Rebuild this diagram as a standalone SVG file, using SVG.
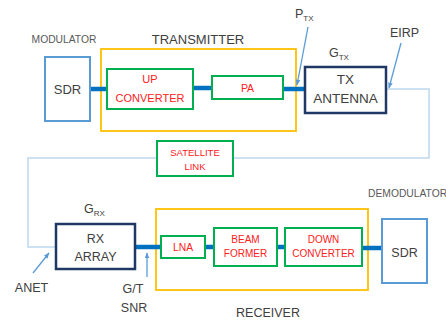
<svg xmlns="http://www.w3.org/2000/svg" width="446" height="320" viewBox="0 0 446 320">
<defs>
<style>
text{font-family:"Liberation Sans",Arial,sans-serif;fill:#404040;text-anchor:middle}
.lbl{fill:#404040}
.red{fill:#ff2020}
.sdr{fill:#fff;stroke:#5b9bd5;stroke-width:2}
.ant{fill:#fff;stroke:#1f3864;stroke-width:2.5}
.grn{fill:#fff;stroke:#00b050;stroke-width:2}
.yel{fill:none;stroke:#ffc000;stroke-width:1.8}
.thick{stroke:#0070c0;stroke-width:4.5;fill:none}
.thin{stroke:#bdd7ee;stroke-width:1.5;fill:none}
.ptr{stroke:#5b9bd5;stroke-width:1.3;fill:none;marker-end:url(#ah)}
</style>
<marker id="ah" viewBox="0 0 10 10" refX="9" refY="5" markerWidth="6" markerHeight="6" orient="auto-start-reverse" markerUnits="userSpaceOnUse">
<path d="M0,1 L10,5 L0,9 z" fill="#5b9bd5"/>
</marker>
</defs>
<rect width="446" height="320" fill="#fff"/>

<g id="transmitter-group">
<rect class="yel" x="101" y="49" width="195" height="82"/>
<text x="198" y="44" font-size="13">TRANSMITTER</text>
</g>
<g id="receiver-group">
<rect class="yel" x="156" y="209" width="212" height="81"/>
<text x="268" y="317" font-size="12.5">RECEIVER</text>
</g>

<g id="connectors">
<path class="thin" d="M386,89 H429 V158 H28 V247 H56"/>
<path class="thick" d="M90,89 H107"/>
<path class="thick" d="M193,88 H212"/>
<path class="thick" d="M283,89 H305"/>
<path class="thick" d="M135,247 H161"/>
<path class="thick" d="M205,247 H214"/>
<path class="thick" d="M277,247 H285"/>
<path class="thick" d="M362,248 H382"/>
<path class="ptr" d="M308,27 L297,85"/>
<path class="ptr" d="M401,43 L389,88"/>
<path class="ptr" d="M33,273 L49,253"/>
<path class="ptr" d="M147,277 L147,253"/>
</g>

<g id="modulator-sdr">
<text x="64" y="43" font-size="10.3" fill="#595959" style="fill:#595959">MODULATOR</text>
<rect class="sdr" x="45" y="57" width="45" height="64"/>
<text x="67.5" y="94" font-size="13">SDR</text>
</g>

<g id="up-converter">
<rect class="grn" x="107" y="69" width="86" height="40"/>
<text class="red" x="150" y="83" font-size="11">UP</text>
<text class="red" x="150" y="102" font-size="11">CONVERTER</text>
</g>

<g id="pa">
<rect class="grn" x="212" y="76" width="71" height="23"/>
<text class="red" x="247.5" y="92" font-size="10.5">PA</text>
</g>

<g id="tx-antenna">
<rect class="ant" x="305" y="67" width="81" height="46"/>
<text x="345.5" y="84" font-size="13.5">TX</text>
<text x="345.5" y="103" font-size="13.5">ANTENNA</text>
</g>

<g id="ptx-label">
<text x="295" y="18" font-size="12.5" style="text-anchor:start">P<tspan font-size="8" dy="3">TX</tspan></text>
</g>
<g id="gtx-label">
<text x="329" y="57" font-size="12.5" style="text-anchor:start">G<tspan font-size="8" dy="3">TX</tspan></text>
</g>
<g id="eirp-label">
<text x="404.5" y="37" font-size="12.5">EIRP</text>
</g>

<g id="satellite-link">
<rect class="grn" x="157" y="141" width="76" height="35"/>
<text class="red" x="195" y="156" font-size="9.5">SATELLITE</text>
<text class="red" x="195" y="170" font-size="9.5">LINK</text>
</g>

<g id="grx-label">
<text x="84" y="213" font-size="12.5" style="text-anchor:start">G<tspan font-size="8" dy="3">RX</tspan></text>
</g>

<g id="rx-array">
<rect class="ant" x="56" y="224" width="79" height="45"/>
<text x="95.5" y="243" font-size="12.5">RX</text>
<text x="95.5" y="261" font-size="12.5">ARRAY</text>
</g>

<g id="lna">
<rect class="grn" x="161" y="236" width="44" height="22"/>
<text class="red" x="183" y="251" font-size="10.3">LNA</text>
</g>

<g id="beam-former">
<rect class="grn" x="214" y="228" width="63" height="38"/>
<text class="red" x="245.5" y="243" font-size="10">BEAM</text>
<text class="red" x="245.5" y="257" font-size="10">FORMER</text>
</g>

<g id="down-converter">
<rect class="grn" x="285" y="228" width="77" height="38"/>
<text class="red" x="323.5" y="243" font-size="10">DOWN</text>
<text class="red" x="323.5" y="257" font-size="10">CONVERTER</text>
</g>

<g id="demodulator-sdr">
<text x="368" y="197" font-size="10.3" style="text-anchor:start;fill:#595959">DEMODULATOR</text>
<rect class="sdr" x="382" y="219" width="45" height="64"/>
<text x="404.5" y="257" font-size="12.5">SDR</text>
</g>

<g id="anet-label">
<text x="31.5" y="292" font-size="12.5">ANET</text>
</g>
<g id="gt-snr-label">
<text x="133" y="293" font-size="12.5">G/T</text>
<text x="134" y="312" font-size="12.5">SNR</text>
</g>
</svg>
